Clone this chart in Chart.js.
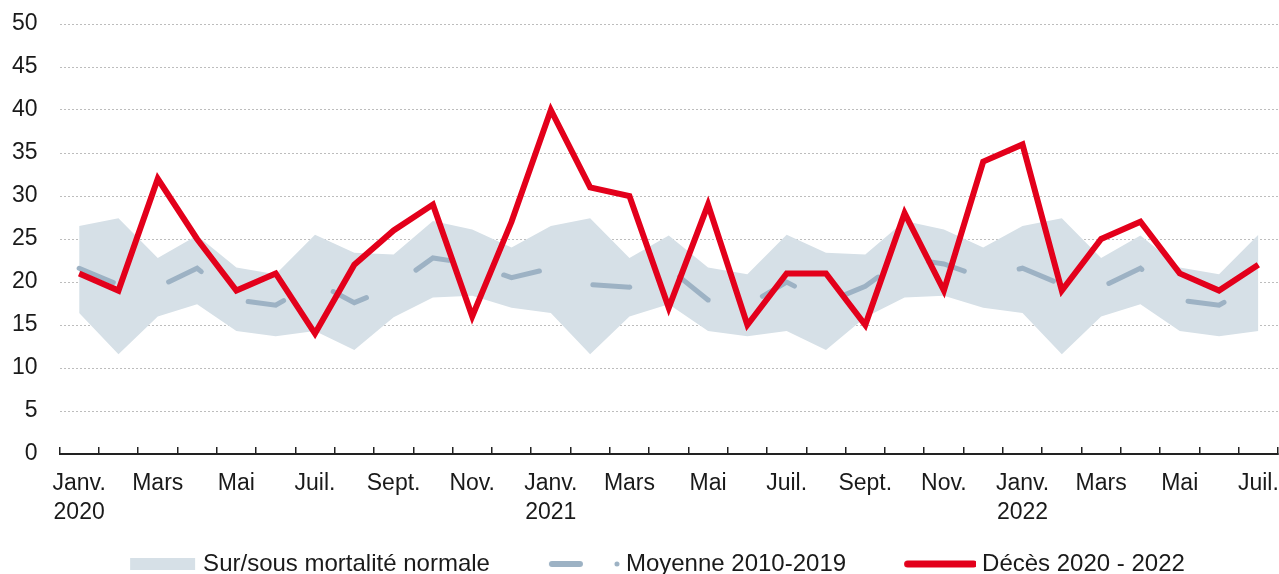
<!DOCTYPE html>
<html lang="fr">
<head>
<meta charset="utf-8">
<title>Mortalité mensuelle 2020-2022</title>
<script src="https://cdn.jsdelivr.net/npm/chart.js@4/dist/chart.umd.min.js"></script>
<style>
  html, body { margin: 0; padding: 0; background: #fff; overflow: hidden; }
  #wrap { position: relative; width: 1279px; height: 586px; }
</style>
</head>
<body>
<div id="wrap"><canvas id="chart"></canvas></div>
<script>
/* Décès mensuels janv. 2020 - juil. 2022, comparés à la moyenne 2010-2019 */
const RED = '#E3001B';
const AVG = '#9DB2C4';
const BAND = '#D6E0E7';
const INK = '#1A1A1A';
const FONT = 'Liberation Sans, Arial, Helvetica, sans-serif';

const months = [
  ['Janv.', '2020'], '', 'Mars', '', 'Mai', '', 'Juil.', '', 'Sept.', '', 'Nov.', '',
  ['Janv.', '2021'], '', 'Mars', '', 'Mai', '', 'Juil.', '', 'Sept.', '', 'Nov.', '',
  ['Janv.', '2022'], '', 'Mars', '', 'Mai', '', 'Juil.'
];

const deces = [21, 19, 32, 25, 19, 21, 14, 22, 26, 29, 16, 27,
               40, 31, 30, 17, 29, 15, 21, 21, 15, 28, 19, 34,
               36, 19, 25, 27, 21, 19, 22];

const moyenne = [21.6, 19.7, 19.4, 21.6, 17.9, 17.3, 20.0, 17.6, 19.5, 22.8, 22.1, 20.5,
                 21.6, 19.7, 19.4, 21.6, 17.9, 17.3, 20.0, 17.6, 19.5, 22.8, 22.1, 20.5,
                 21.6, 19.7, 19.4, 21.6, 17.9, 17.3, 20.0];

const bandHaut = [26.5, 27.4, 22.8, 25.4, 21.7, 20.9, 25.5, 23.4, 23.2, 27.1, 26.1, 24.0,
                  26.5, 27.4, 22.8, 25.4, 21.7, 20.9, 25.5, 23.4, 23.2, 27.1, 26.1, 24.0,
                  26.5, 27.4, 22.8, 25.4, 21.7, 20.9, 25.5];

const bandBas = [16.4, 11.6, 16.0, 17.4, 14.3, 13.7, 14.3, 12.1, 15.9, 18.2, 18.4, 17.0,
                 16.4, 11.6, 16.0, 17.4, 14.3, 13.7, 14.3, 12.1, 15.9, 18.2, 18.4, 17.0,
                 16.4, 11.6, 16.0, 17.4, 14.3, 13.7, 14.3];

const yTicks = [0, 5, 10, 15, 20, 25, 30, 35, 40, 45, 50];

const legendNames = ['Sur/sous mortalité normale', 'Moyenne 2010-2019', 'Décès 2020 - 2022'];

/* Legend glyphs on 110x16 canvases; Chart.js centres them at item x + 49 */
function glyph(draw) {
  const c = document.createElement('canvas');
  c.width = 110; c.height = 16;
  draw(c.getContext('2d'));
  return c;
}
const glyphBand = glyph(g => { g.fillStyle = BAND; g.fillRect(43, 2, 65, 12); });
const glyphAvg = glyph(g => {
  g.strokeStyle = AVG; g.lineWidth = 6; g.lineCap = 'round';
  g.beginPath(); g.moveTo(42, 8); g.lineTo(70, 8); g.stroke();
  g.fillStyle = AVG; g.beginPath(); g.arc(107, 8, 2.5, 0, Math.PI * 2); g.fill();
});
const glyphRed = glyph(g => {
  g.strokeStyle = RED; g.lineWidth = 7; g.lineCap = 'round';
  g.beginPath(); g.moveTo(41.5, 8); g.lineTo(107.5, 8); g.stroke();
});
const glyphs = [glyphBand, glyphAvg, glyphRed];

new Chart(document.getElementById('chart'), {
  type: 'line',
  data: {
    labels: months,
    datasets: [
      { label: legendNames[0], data: bandHaut, fill: '+1', backgroundColor: BAND,
        borderWidth: 0, pointRadius: 0, order: 3 },
      { label: 'bas', data: bandBas, fill: false, borderWidth: 0, pointRadius: 0, order: 3 },
      { label: legendNames[1], data: moyenne, borderColor: AVG, borderWidth: 5,
        borderDash: [37, 57], borderCapStyle: 'round', pointRadius: 0, tension: 0, order: 2 },
      { label: legendNames[2], data: deces, borderColor: RED, borderWidth: 6,
        pointRadius: 0, tension: 0, order: 1 }
    ]
  },
  options: {
    responsive: true, maintainAspectRatio: false, animation: false, devicePixelRatio: 1,
    layout: { padding: { left: 0, right: 1, top: 24, bottom: 0 } },
    scales: {
      x: {
        offset: true,
        grid: { display: true, offset: true, drawOnChartArea: false, drawTicks: true,
                tickLength: -7, color: '#222', lineWidth: 1.5 },
        border: { display: true, color: '#222', width: 2 },
        ticks: { autoSkip: false, maxRotation: 0, padding: 23, color: INK,
                 font: { family: FONT, size: 23, lineHeight: 1.23 } },
        afterFit: s => { s.height = 72; s.paddingLeft = 0; s.paddingRight = 0; }
      },
      y: {
        min: 0, max: 50,
        afterBuildTicks: s => { s.ticks = yTicks.map(v => ({ value: v })); },
        grid: { color: '#BDBDBD', lineWidth: 1, drawTicks: false },
        border: { display: false, dash: [2, 2] },
        ticks: { padding: 22, color: INK, font: { family: FONT, size: 23 } },
        afterFit: s => { s.width = 59.5; s.paddingTop = 0; s.paddingBottom = 0; }
      }
    },
    plugins: {
      tooltip: { enabled: false },
      legend: {
        position: 'bottom',
        labels: {
          usePointStyle: true, pointStyleWidth: 98, padding: 26, color: INK,
          font: { family: FONT, size: 24 },
          generateLabels: () => legendNames.map((text, i) => ({
            text, pointStyle: glyphs[i], hidden: false, datasetIndex: [0, 2, 3][i],
            fontColor: INK, lineWidth: 0, strokeStyle: 'rgba(0,0,0,0)', fillStyle: 'rgba(0,0,0,0)'
          }))
        }
      }
    }
  }
});
</script>
</body>
</html>
